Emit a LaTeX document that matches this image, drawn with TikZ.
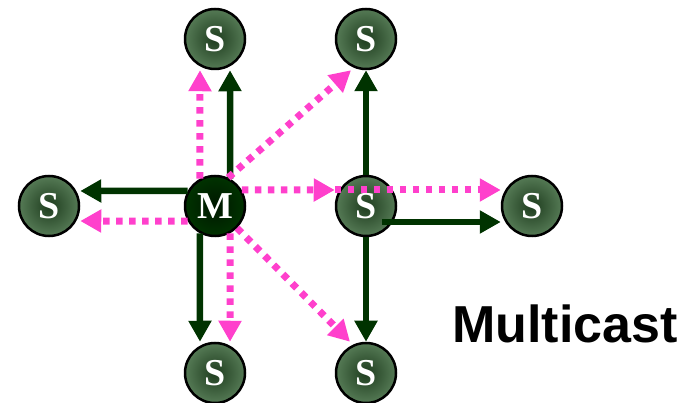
\documentclass[tikz,border=0pt]{standalone}
\usepackage{fontspec}
\setmainfont{Liberation Serif}
\newfontfamily\headfont{Liberation Sans}
\usetikzlibrary{arrows.meta}
\definecolor{lnk}{HTML}{003300}
\definecolor{mc}{HTML}{FF40CC}
\definecolor{sdark}{HTML}{1E3C1E}
\definecolor{sout}{HTML}{557A55}

\begin{document}
\begin{tikzpicture}[x=1pt,y=-1pt,>={Triangle[length=21pt,width=22pt]},srv/.style={draw=black,line width=2.5pt,circle,minimum size=60pt,inner sep=0,shading=radial,inner color=sdark,outer color=sout,text=white,font=\fontsize{38}{38}\selectfont\bfseries},mst/.style={srv,inner color=black!55!lnk,outer color=lnk},uni/.style={->,draw=lnk,line width=6.5pt},mul/.style={->,draw=mc,line width=7pt,dash pattern=on 6.5pt off 6.5pt}]
\useasboundingbox (0,0) rectangle (691,403);
\node[mst] (m) at (215,206){M};\node[srv] (sl) at (49,206){S};\node[srv] (sa) at (215,39){S};\node[srv] (sb) at (215,373){S};
\node[srv] (st) at (366,39){S};\node[srv] (sm) at (366,206){S};\node[srv] (sr) at (532,206){S};\node[srv] (sc) at (366,373){S};
\draw[uni] (m.61)--([xshift=15]sa.south);\draw[uni] (m.151)--([yshift=15]sl.east);\draw[uni] (m.241)--([xshift=-15]sb.north);
\draw[uni] (sm.north)--(st.south);\draw[uni] (sm.south)--(sc.north);\draw[uni] ([xshift=16,yshift=-16]sm.center)--([yshift=-16]sr.west);
\draw[mul] (m.119)--([xshift=-15]sa.south);\draw[mul] (m.65)--([xshift=-15]st.south);\draw[mul] (m.31)--([yshift=16]sm.west);\draw[mul] ([yshift=16]sm.west)--([yshift=16]sr.west);
\draw[mul] (m.209)--([yshift=-15]sl.east);\draw[mul] (m.299)--([xshift=15]sb.north);\draw[mul] (m.-45)--([xshift=-16]sc.north);
\node[anchor=base west,inner sep=0,font=\headfont\bfseries\fontsize{52}{52}\selectfont] (lbl) at (452,343){Multicast};
\end{tikzpicture}
\end{document}
